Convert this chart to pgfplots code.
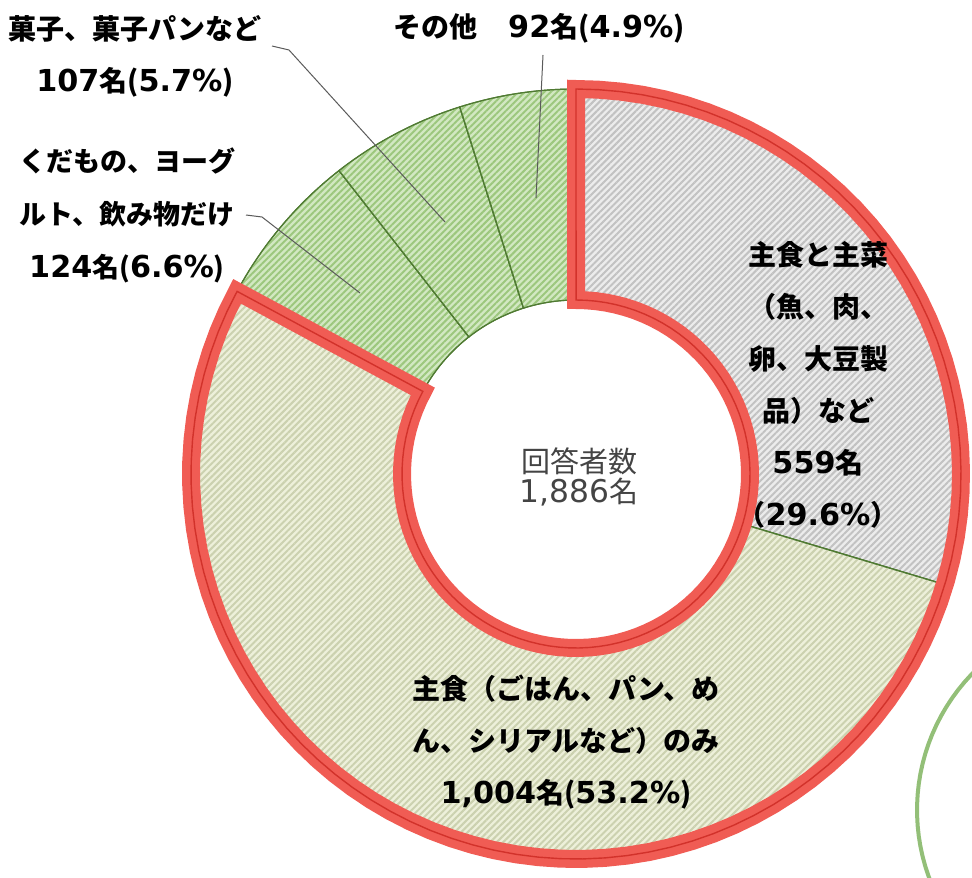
\documentclass[border=0pt]{standalone}
\usepackage{fontspec}
\setmainfont{Noto Sans CJK JP}
\newfontfamily\lat{DejaVu Sans}[Scale=1.08]
\usepackage{pgfplots}
\usepackage{pgfplotstable}
\pgfplotsset{compat=1.18}
\usetikzlibrary{patterns.meta}

\definecolor{grayfill}{HTML}{ECECEC}
\definecolor{grayline}{HTML}{C2C2C2}
\definecolor{yelfill}{HTML}{EDF0DA}
\definecolor{yelline}{HTML}{CBD1AF}
\definecolor{grnfill}{HTML}{D2E8C2}
\definecolor{grnline}{HTML}{9CC77D}
\definecolor{segedge}{HTML}{4F7A32}
\definecolor{redband}{HTML}{F05C54}
\definecolor{redline}{HTML}{D2322B}
\definecolor{ringgreen}{HTML}{93BF78}
\definecolor{leader}{HTML}{5A5A5A}
\definecolor{centertxt}{HTML}{444444}

% answers per category, clockwise from 12 o'clock
\pgfplotstableread{
part n
staplemain 559
stapleonly 1004
fruit 124
sweets 107
other 92
}\donut

\tikzset{hatch/.style 2 args={fill=#1,
  postaction={pattern={Lines[angle=45,distance=2.3pt,line width=1pt]},
  pattern color=#2}}}

% ring sector: #1 options, #2 outer r, #3 inner r,
% #4->#5 outer arc angles, #6->#7 inner arc angles (pixel units)
\newcommand\ring[7]{%
  \addplot[#1, samples at={0,1,...,90,100,101,...,190}, variable=\t]
  ({\cx + (\t<95 ? #2 : #3)*cos(\t<95 ? (#4)+((#5)-(#4))*\t/90 : (#6)+((#7)-(#6))*(\t-100)/90)},
   {\cy - (\t<95 ? #2 : #3)*sin(\t<95 ? (#4)+((#5)-(#4))*\t/90 : (#6)+((#7)-(#6))*(\t-100)/90)})
  -- cycle;}

\def\cx{576}
\def\cy{474}
\def\Rout{385}
\def\Rin{174}

\begin{document}
\begin{tikzpicture}
\pgfplotstablegetelem{0}{n}\of\donut \let\nA\pgfplotsretval
\pgfplotstablegetelem{1}{n}\of\donut \let\nB\pgfplotsretval
\pgfplotstablegetelem{2}{n}\of\donut \let\nC\pgfplotsretval
\pgfplotstablegetelem{3}{n}\of\donut \let\nD\pgfplotsretval
\pgfplotstablegetelem{4}{n}\of\donut \let\nE\pgfplotsretval
\pgfmathsetmacro\tot{\nA+\nB+\nC+\nD+\nE}
\pgfmathsetmacro\aA{90}
\pgfmathsetmacro\aB{\aA-360*(\nA/\tot)}
\pgfmathsetmacro\aC{\aB-360*(\nB/\tot)}
\pgfmathsetmacro\aD{\aC-360*(\nC/\tot)}
\pgfmathsetmacro\aE{\aD-360*(\nD/\tot)}
\pgfmathsetmacro\aF{\aE-360*(\nE/\tot)}
\begin{axis}[width=486pt, height=438.5pt, scale only axis, hide axis,
  xmin=0, xmax=972, ymin=0, ymax=877, y dir=reverse, clip=true,
  no markers]
  % sectors
  \ring{draw=segedge, line width=0.6pt, hatch={grayfill}{grayline}}{\Rout}{\Rin}{\aA}{\aB}{\aB}{\aA}
  \ring{draw=segedge, line width=0.6pt, hatch={yelfill}{yelline}}{\Rout}{\Rin}{\aB}{\aC}{\aC}{\aB}
  \ring{draw=segedge, line width=0.6pt, hatch={grnfill}{grnline}}{\Rout}{\Rin}{\aC}{\aD}{\aD}{\aC}
  \ring{draw=segedge, line width=0.6pt, hatch={grnfill}{grnline}}{\Rout}{\Rin}{\aD}{\aE}{\aE}{\aD}
  \ring{draw=segedge, line width=0.6pt, hatch={grnfill}{grnline}}{\Rout}{\Rin}{\aE}{\aF}{\aF}{\aE}
  % red outline round the first two sectors
  \ring{draw=redband, line width=9pt, line join=miter}{\Rout}{\Rin}{\aA}{\aC}{\aC}{\aA}
  \ring{draw=redline, line width=0.7pt, line join=miter}{\Rout}{\Rin}{\aA}{\aC}{\aC}{\aA}
  % neighbouring chart, cut off at the edge
  \addplot[draw=ringgreen, line width=2pt, domain=0:360, samples=120]
    ({1113+196*cos(x)}, {810-196*sin(x)});

  % leader lines
  \draw[leader, line width=0.5pt] (axis cs:543,55) -- (axis cs:536,198);
  \draw[leader, line width=0.5pt] (axis cs:272,46) -- (axis cs:289,50) -- (axis cs:445,222);
  \draw[leader, line width=0.5pt] (axis cs:246,215) -- (axis cs:262,217) -- (axis cs:360,293);

  % labels
  \node[align=center, font=\fontsize{14}{26}\selectfont\bfseries]
    at (axis cs:135,56) {菓子、菓子パンなど\\{\lat 107}名({\lat 5.7\%})};
  \node[font=\fontsize{14}{26}\selectfont\bfseries]
    at (axis cs:539,28) {その他\hspace{1.1em}{\lat 92}名({\lat 4.9\%})};
  \node[align=center, font=\fontsize{13.5}{26.5}\selectfont\bfseries]
    at (axis cs:127,215) {くだもの、ヨーグ\\ルト、飲み物だけ\\{\fontsize{14}{26.5}\selectfont\lat 124}名({\fontsize{14}{26.5}\selectfont\lat 6.6\%})};
  \node[align=center, font=\fontsize{14}{26}\selectfont\bfseries]
    at (axis cs:818,385) {主食と主菜\\（魚、肉、\\卵、大豆製\\品）など\\{\lat 559}名\\（{\lat 29.6\%}）};
  \node[align=center, font=\fontsize{14}{26}\selectfont\bfseries]
    at (axis cs:566,742) {主食（ごはん、パン、め\\ん、シリアルなど）のみ\\{\lat 1,004}名({\lat 53.2\%})};
  \node[align=center, text=centertxt, font=\fontsize{14.5}{15}\selectfont]
    at (axis cs:579,477) {回答者数\\{\lat 1,886}名};
\end{axis}
\pgfresetboundingbox
\useasboundingbox (current axis.south west) rectangle (current axis.north east);
\end{tikzpicture}
\end{document}
